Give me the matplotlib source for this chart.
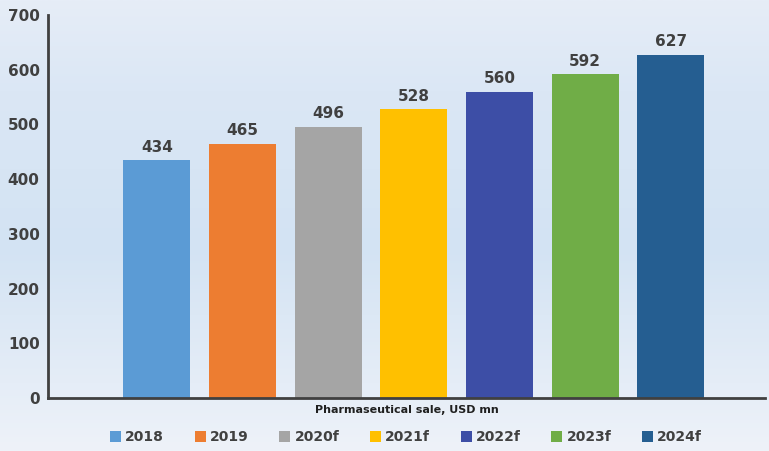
import numpy as np
import matplotlib
matplotlib.use("Agg")
import matplotlib.pyplot as plt
from matplotlib.colors import LinearSegmentedColormap
from matplotlib.patches import Patch

years = ["2018", "2019", "2020f", "2021f", "2022f", "2023f", "2024f"]
sales = [434, 465, 496, 528, 560, 592, 627]
colors = ["#5b9bd5", "#ed7d31", "#a5a5a5", "#ffc000", "#3d4ea6", "#70ad47", "#255e91"]

fig = plt.figure(figsize=(7.69, 4.51), dpi=100)

# soft blue backdrop over the whole figure
bg = fig.add_axes([0, 0, 1, 1], zorder=0)
cmap = LinearSegmentedColormap.from_list(
    "bg", [(0.0, "#eef2f9"), (0.45, "#d3e3f3"), (0.8, "#dbe7f5"), (1.0, "#e6edf7")])
grad = np.linspace(0, 1, 256).reshape(-1, 1)
bg.imshow(grad, aspect="auto", cmap=cmap, origin="lower", extent=[0, 1, 0, 1])
bg.axis("off")

ax = fig.add_axes([0.0624, 0.1175, 0.9326, 0.8495], zorder=1)
ax.patch.set_alpha(0)

x = np.arange(len(years))
bars = ax.bar(x, sales, width=0.78, color=colors, zorder=2)

for xi, v in zip(x, sales):
    ax.text(xi, v + 10, str(v), ha="center", va="bottom",
            fontsize=11, fontweight="bold", color="#404040")

ax.set_xlim(-1.27, 7.1)
ax.set_ylim(0, 700)
ax.set_yticks(range(0, 701, 100))
ax.tick_params(axis="y", length=0, pad=6, labelsize=11, labelcolor="#404040")
for lbl in ax.get_yticklabels():
    lbl.set_fontweight("bold")
ax.set_xticks([])

for side in ["top", "right"]:
    ax.spines[side].set_visible(False)
for side in ["left", "bottom"]:
    ax.spines[side].set_color("#404040")
    ax.spines[side].set_linewidth(2)

ax.set_xlabel("Pharmaseutical sale, USD mn", fontsize=8, fontweight="bold",
              color="#202020", labelpad=5)

handles = [Patch(facecolor=c, label=y) for y, c in zip(years, colors)]
leg = fig.legend(handles=handles, loc="center", bbox_to_anchor=(0.528, 0.03),
                 ncol=7, frameon=False, fontsize=10, handlelength=0.8,
                 handleheight=0.8, handletextpad=0.3, columnspacing=2.2)
for t in leg.get_texts():
    t.set_fontweight("bold")
    t.set_color("#404040")

fig.savefig("out.png", dpi=100)
